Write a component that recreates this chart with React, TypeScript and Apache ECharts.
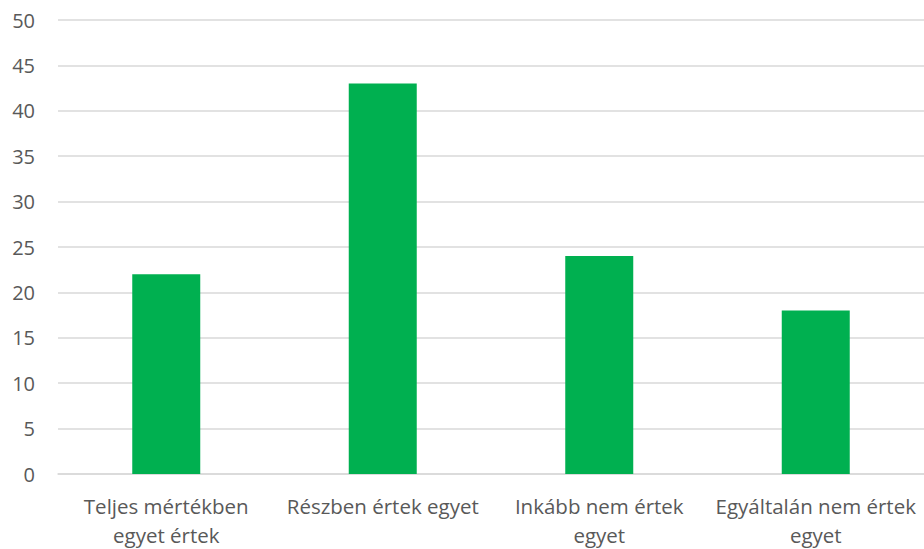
import React, { useEffect, useRef } from "react";
import * as echarts from "echarts";

const categories = [
  "Teljes mértékben\negyet értek",
  "Részben értek egyet",
  "Inkább nem értek\negyet",
  "Egyáltalán nem értek\negyet",
];
const values = [22, 43, 24, 18];

export default function App() {
  const ref = useRef<HTMLDivElement>(null);
  useEffect(() => {
    if (!ref.current) return;
    const chart = echarts.init(ref.current, undefined, { renderer: "svg" });
    chart.setOption({
      animation: false,
      backgroundColor: "#ffffff",
      textStyle: { fontFamily: "Open Sans" },
      grid: { left: 58, right: 0, top: 20, bottom: 73, containLabel: false },
      xAxis: {
        type: "category",
        data: categories,
        axisLine: { lineStyle: { color: "#d9d9d9", width: 1.5 } },
        axisTick: { show: false },
        axisLabel: {
          color: "#595959",
          fontSize: 20.5,
          lineHeight: 29,
          margin: 17,
          interval: 0,
          fontFamily: "Open Sans",
        },
      },
      yAxis: {
        type: "value",
        min: 0,
        max: 50,
        interval: 5,
        axisLine: { show: false },
        axisTick: { show: false },
        splitLine: { lineStyle: { color: "#d9d9d9", width: 1.5 } },
        axisLabel: {
          color: "#595959",
          fontSize: 20,
          margin: 23,
          fontFamily: "Open Sans",
        },
      },
      series: [
        {
          type: "bar",
          data: values,
          barWidth: 68,
          itemStyle: { color: "#00b050" },
        },
      ],
    });
    return () => chart.dispose();
  }, []);
  return (
    <div
      ref={ref}
      style={{ position: "fixed", left: 0, top: 0, width: 924, height: 549 }}
    />
  );
}
